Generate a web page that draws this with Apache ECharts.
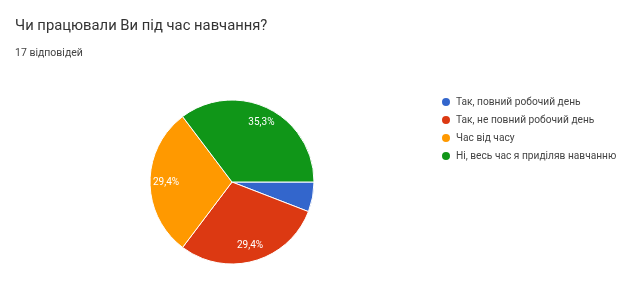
<!DOCTYPE html>
<html>
<head>
<meta charset="utf-8">
<script src="https://cdn.jsdelivr.net/npm/echarts@6/dist/echarts.min.js"></script>
<style>
  html, body { margin: 0; padding: 0; background: #fff; }
  #chart { width: 641px; height: 291px; }
</style>
</head>
<body>
<div id="chart"></div>
<script>
const answers = [
  'Так, повний робочий день',
  'Так, не повний робочий день',
  'Час від часу',
  'Ні, весь час я приділяв навчанню'
];
const counts = [1, 5, 5, 6];
const colors = ['#3366cc', '#dc3912', '#ff9900', '#109618'];
const questionTitle = 'Чи працювали Ви під час навчання?';
const responsesText = '17 відповідей';

const chart = echarts.init(document.getElementById('chart'));
const pieData = answers.map((name, i) => ({ name, value: counts[i] }));
// small slices get no label, like the original
const fmtPct = p => (p.percent < 10 ? '' : p.percent.toFixed(1).replace('.', ',') + '%');
const center = [232, 182];

chart.setOption({
  animation: false,
  color: colors,
  textStyle: { fontFamily: 'Roboto, Arial, sans-serif' },
  title: [
    { text: questionTitle, left: 10, top: 14, textStyle: { fontSize: 14.8, fontWeight: 'normal', color: '#333' } },
    { text: responsesText, left: 10, top: 43, textStyle: { fontSize: 10.5, fontWeight: 'normal', color: '#444' } }
  ],
  legend: {
    orient: 'vertical',
    left: 435,
    top: 91,
    icon: 'circle',
    itemWidth: 10,
    itemHeight: 10,
    itemGap: 6,
    textStyle: { fontSize: 10.2, lineHeight: 10, color: '#444' },
    data: answers
  },
  series: [
    {
      type: 'pie',
      center,
      radius: 82,
      startAngle: 0,
      clockwise: true,
      percentPrecision: 1,
      itemStyle: { borderColor: '#fff', borderWidth: 1 },
      label: { show: false },
      labelLine: { show: false },
      emphasis: { disabled: true },
      data: pieData
    },
    {
      // transparent ring just to put labels further out than the pie's half radius
      type: 'pie',
      center,
      radius: [44, 82],
      startAngle: 0,
      clockwise: true,
      silent: true,
      percentPrecision: 1,
      legendHoverLink: false,
      itemStyle: { color: 'transparent' },
      label: { show: true, position: 'inside', formatter: fmtPct, color: '#fff', fontSize: 10 },
      labelLine: { show: false },
      emphasis: { disabled: true },
      data: pieData
    }
  ]
});
</script>
</body>
</html>
